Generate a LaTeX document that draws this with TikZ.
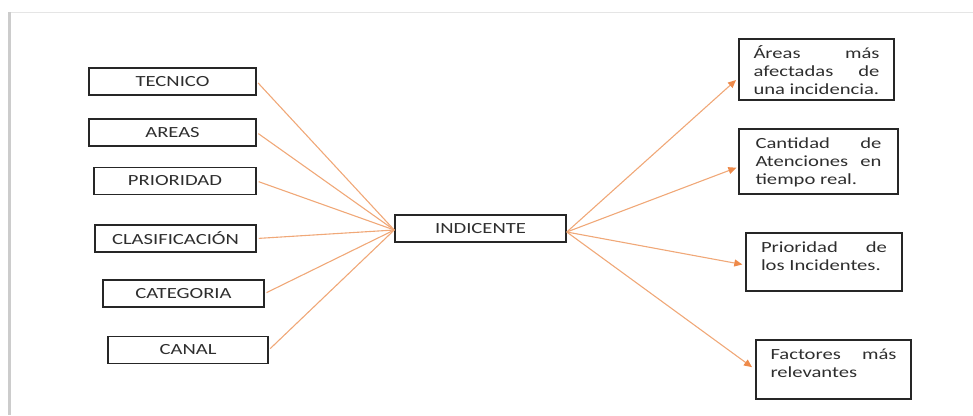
\documentclass[tikz,border=0pt]{standalone}
\usepackage{fontspec}
\setmainfont{Carlito}[FakeStretch=1.33]
\usepackage{xcolor}
\usetikzlibrary{arrows.meta, positioning, calc}

\definecolor{txtgray}{HTML}{2E2E2E}
\definecolor{linkorange}{HTML}{F0A878}
\definecolor{tiporange}{HTML}{EE8A4A}

% text of a right-hand box: top aligned, justified
\newcommand{\rtext}[2]{\parbox[c][#1][t]{126pt}{\strut #2}}

\begin{document}
\begin{tikzpicture}[x=1pt, y=-1pt,
  font=\fontsize{15.5}{18}\selectfont, text=txtgray,
  campo/.style={draw=black!85, line width=1.5pt, minimum height=27pt, inner sep=0pt},
  salida/.style={draw=black!85, line width=1.5pt, inner xsep=0pt, inner ysep=7pt},
  enlace/.style={draw=linkorange, line width=1.1pt},
  flecha/.style={enlace, -{Triangle[length=8pt, width=7pt, color=tiporange, fill=tiporange]}}]
\useasboundingbox (0,0) rectangle (973,415);
% page edge with its shadow
\draw[gray!20, line width=0.6pt] (10,12) -- (973,12);
\draw[gray!40, line width=3pt] (9,12) -- (9,415);

% fields of the incident (left)
\node[campo, minimum width=167pt] (tec) at (172.5,81.5)  {TECNICO};
\node[campo, minimum width=167pt] (are) at (172.5,132.5) {AREAS};
\node[campo, minimum width=162pt] (pri) at (175,181)     {PRIORIDAD};
\node[campo, minimum width=161pt] (cla) at (175.5,238.5) {CLASIFICACIÓN};
\node[campo, minimum width=161pt] (cat) at (183.5,293.5) {CATEGORIA};
\node[campo, minimum width=160pt] (can) at (188,350)     {CANAL};

\node[campo, minimum width=171pt] (ind) at (480.5,228.5) {INDICENTE};

% results (right)
\node[salida, minimum width=155pt, minimum height=61pt] (r1) at (816.5,69.5)
  {\rtext{47pt}{Áreas más\linebreak afectadas de\linebreak una incidencia.}};
\node[salida, minimum width=159pt, minimum height=65pt] (r2) at (818.5,161.5)
  {\rtext{51pt}{Cantidad de\linebreak Atenciones en\linebreak tiempo real.}};
\node[salida, minimum width=156pt, minimum height=58pt] (r3) at (824,262)
  {\rtext{44pt}{Prioridad de\linebreak los Incidentes.}};
\node[salida, minimum width=155pt, minimum height=59pt] (r4) at (833.5,369.5)
  {\rtext{45pt}{Factores más\linebreak relevantes}};

\coordinate (entra) at ($(ind.west)+(0,1.5)$);
\coordinate (sale) at ($(ind.east)+(0,3.5)$);
\foreach \c in {tec,are,pri,cla,cat,can}
  \draw[enlace, shorten <=2pt] (\c.east) -- (entra);
\draw[flecha, shorten >=3pt] (sale) -- ($(r1.west)+(0,8.5)$);
\draw[flecha, shorten >=2pt] (sale) -- ($(r2.west)+(0,5.5)$);
\draw[flecha, shorten >=3pt] (sale) -- ($(r3.west)+(0,3)$);
\draw[flecha, shorten >=4pt] (sale) -- (r4.west);
\end{tikzpicture}
\end{document}
